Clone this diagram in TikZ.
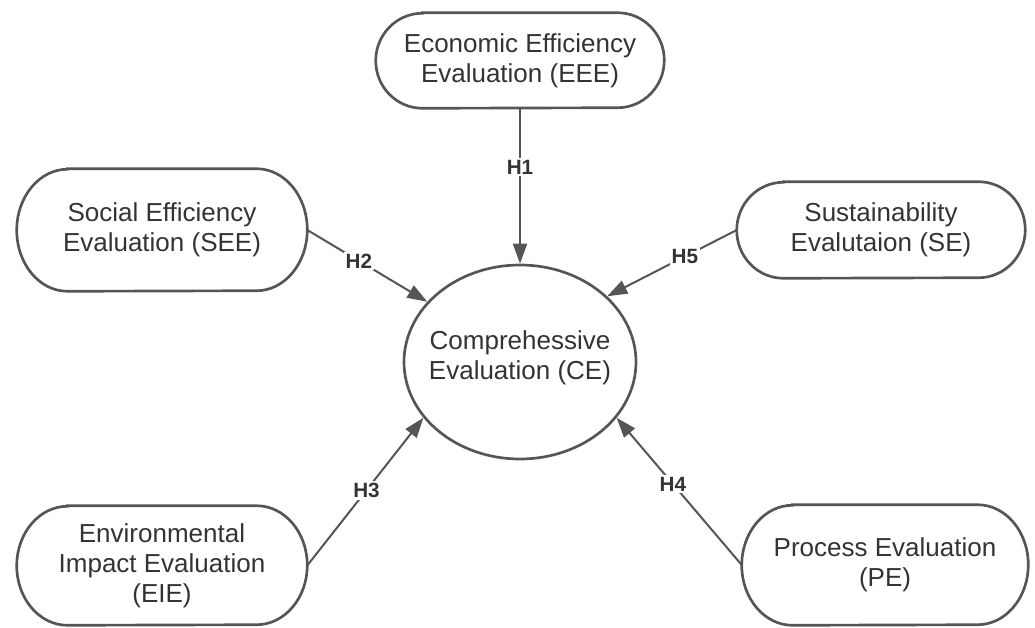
\documentclass[tikz,border=0pt]{standalone}
\usepackage{fontspec}
\setmainfont{Liberation Sans}
\usetikzlibrary{arrows.meta,shapes.geometric}
\definecolor{edgegray}{HTML}{555555}
\definecolor{textgray}{HTML}{333333}
\newcommand\termoutline[3]{%
  \draw[outline] ([xshift=#2]#1.north west) -- ([xshift=-#2]#1.north east)
    arc[start angle=90,end angle=-90,x radius=#2,y radius=#3]
    -- ([xshift=#2]#1.south west)
    arc[start angle=270,end angle=90,x radius=#2,y radius=#3] -- cycle;}
\begin{document}
\begin{tikzpicture}[x=0.75pt,y=-0.75pt,
  outline/.style={draw=edgegray, line width=2pt},
  box/.style={align=center, inner sep=0pt,
    text=textgray, font=\fontsize{19.5}{22.5}\selectfont},
  centre/.style={ellipse, draw=edgegray, line width=2pt, fill=white, inner sep=0pt},
  link/.style={draw=edgegray, line width=1.5pt, -{Triangle[length=15pt,width=10.5pt]}},
  hlabel/.style={fill=white, inner sep=1.5pt, text=textgray, font=\fontsize{15.5}{18}\selectfont\bfseries}]
\path[use as bounding box] (0,0) rectangle (1035,628);

\node[box, minimum width=216pt, minimum height=71.25pt] (EEE) at (520,60.5)
  {Economic Efficiency\\Evaluation (EEE)};
\termoutline{EEE}{35pt}{35.625pt}
\node[box, minimum width=217.5pt, minimum height=91.5pt] (SEE) at (162,230)
  {Social Efficiency\\Evaluation (SEE)};
\termoutline{SEE}{38pt}{45.75pt}
\node[box, minimum width=216pt, minimum height=72pt] (SE) at (881,230)
  {Sustainability\\Evalutaion (SE)};
\termoutline{SE}{35pt}{36pt}
\node[box, minimum width=217.5pt, minimum height=89.25pt] (EIE) at (162,565.5)
  {Environmental\\Impact Evaluation\\(EIE)};
\termoutline{EIE}{38pt}{44.625pt}
\node[box, minimum width=214.5pt, minimum height=90pt] (PE) at (885,565)
  {Process Evaluation\\(PE)};
\termoutline{PE}{38pt}{45pt}
\node[centre, minimum width=174pt, minimum height=145.5pt,
  label={[align=center, text=textgray, font=\fontsize{19.5}{22.5}\selectfont, yshift=3pt]center:Comprehessive\\Evaluation (CE)}] (CE) at (520,362) {};

\draw[link] (EEE.south) -- (CE.north) node[hlabel, pos=0.38] {H1};
\draw[link] (SEE.east) -- (CE.147) node[hlabel, pos=0.43] {H2};
\draw[link] (SE.west) -- (CE.37) node[hlabel, pos=0.4] {H5};
\draw[link] (EIE.east) -- (CE.210) node[hlabel, pos=0.51] {H3};
\draw[link] (PE.west) -- (CE.330) node[hlabel, pos=0.55] {H4};
\end{tikzpicture}
\end{document}
